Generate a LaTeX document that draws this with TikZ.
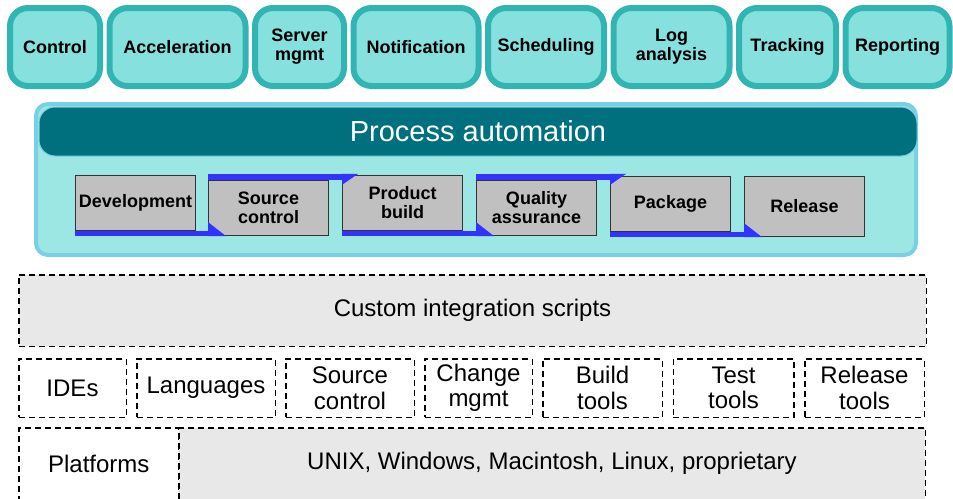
\documentclass[tikz,border=0pt]{standalone}
\usepackage{fontspec}
\setmainfont{Liberation Sans}
\usetikzlibrary{positioning}

\definecolor{topfill}{HTML}{86E0DD}
\definecolor{topline}{HTML}{30B5B2}
\definecolor{panelfill}{HTML}{9CE6E3}
\definecolor{panelline}{HTML}{78D0E2}
\definecolor{hdrfill}{HTML}{00707F}
\definecolor{stepgray}{HTML}{C0C0C0}
\definecolor{flowblue}{HTML}{3333FF}
\definecolor{dashgray}{HTML}{E8E8E8}

\begin{document}
\begin{tikzpicture}[x=1pt,y=-1pt,
    topbox/.style={draw=topline,fill=topfill,line width=6pt,rounded corners=18pt,
      minimum height=78pt,inner sep=0pt,align=center,
      font=\bfseries\fontsize{18}{19}\selectfont},
    stepbox/.style={draw=black!80,fill=stepgray,line width=1.2pt,minimum width=119.8pt,
      minimum height=55pt,inner sep=0pt,align=center,
      font=\bfseries\fontsize{18}{19}\selectfont},
    tierbox/.style={draw,dash pattern=on 6pt off 4pt,line width=1.5pt,minimum height=58.5pt,
      inner sep=0pt,align=center,font=\fontsize{24}{25.5}\selectfont},
    flowbar/.style={fill=flowblue}]
    \useasboundingbox (0,0) rectangle (953,498);

    % top row
    \node[topbox,minimum width=90pt] (ctrl) at (55,47) {Control};
    \node[topbox,minimum width=136pt,right=3.5pt of ctrl] (accel) {Acceleration};
    \node[topbox,minimum width=89pt,right=3.5pt of accel] (srv) {Server\\mgmt};
    \node[topbox,minimum width=125pt,right=3.5pt of srv] (notif) {Notification};
    \node[topbox,minimum width=116pt,right=3.5pt of notif] (sched) {Scheduling};
    \node[topbox,minimum width=116pt,right=3.5pt of sched] (log) {Log\\analysis};
    \node[topbox,minimum width=97pt,right=3.5pt of log] (track) {Tracking};
    \node[topbox,minimum width=104pt,right=3.5pt of track] (rep) {Reporting};

    % process automation
    \node[draw=panelline,fill=panelfill,line width=4pt,rounded corners=12pt,
      minimum width=880pt,minimum height=151pt] (panel) at (476,179.5) {};
    \node[draw=panelline,fill=hdrfill,line width=1pt,rounded corners=16pt,
      minimum width=878pt,minimum height=49pt,text=white,
      font=\fontsize{29}{30}\selectfont] (hdr) at (478,131.5) {Process automation};

    \node[stepbox] (dev) at (135.5,203) {Development};
    \node[stepbox,below right=5pt and 12pt of dev.north east] (src) {Source\\control};
    \node[stepbox,below right=-5pt and 13pt of src.north east] (pb) {Product\\build};
    \node[stepbox,below right=5pt and 13pt of pb.north east] (qa) {Quality\\assurance};
    \node[stepbox,below right=-4pt and 13pt of qa.north east] (pkg) {Package};
    \node[stepbox,minimum height=60pt,below right=0pt and 13pt of pkg.north east] (rel) {Release};

    \fill[flowbar] (dev.south west) rectangle (src.south west);
    \fill[flowbar] (src.south west) -- ++(0,-14) -- ++(18,14) -- cycle;
    \fill[flowbar] (src.north west) rectangle ([yshift=1pt]pb.north west);
    \fill[flowbar] ([yshift=1pt]pb.north west) -- ++(16,0) -- ++(-16,11) -- cycle;
    \fill[flowbar] (pb.south west) rectangle (qa.south west);
    \fill[flowbar] (qa.south west) -- ++(0,-14) -- ++(18,14) -- cycle;
    \fill[flowbar] (qa.north west) rectangle ([yshift=2pt]pkg.north west);
    \fill[flowbar] ([yshift=2pt]pkg.north west) -- ++(16,0) -- ++(-16,11) -- cycle;
    \fill[flowbar] (pkg.south west) rectangle (rel.south west);
    \fill[flowbar] (rel.south west) -- ++(0,-14) -- ++(18,14) -- cycle;

    % tool layers
    \node[tierbox,fill=dashgray,minimum width=907.5pt,minimum height=71.5pt] (cis) at (472.5,310.5) {Custom integration scripts};
    \node[tierbox,minimum width=107.5pt] (ide) at (72.5,388) {IDEs};
    \node[tierbox,minimum width=138.5pt,right=9pt of ide] (lang) {Languages};
    \node[tierbox,minimum width=128.5pt,right=9pt of lang] (scm) {Source\\control};
    \node[tierbox,minimum width=107.5pt,right=9pt of scm] (chg) {Change\\mgmt};
    \node[tierbox,minimum width=119.5pt,right=9pt of chg] (build) {Build\\tools};
    \node[tierbox,minimum width=120.5pt,right=9.5pt of build] (test) {Test\\tools};
    \node[tierbox,minimum width=119.5pt,right=9.5pt of test] (reltools) {Release\\tools};
    \node[tierbox,minimum width=160pt,minimum height=72pt,anchor=north west] (plat) at (18,427) {Platforms};
    \node[tierbox,fill=dashgray,minimum width=746.5pt,minimum height=72pt,right=-1.5pt of plat] (os) {UNIX, Windows, Macintosh, Linux, proprietary};
  \end{tikzpicture}
\end{document}
